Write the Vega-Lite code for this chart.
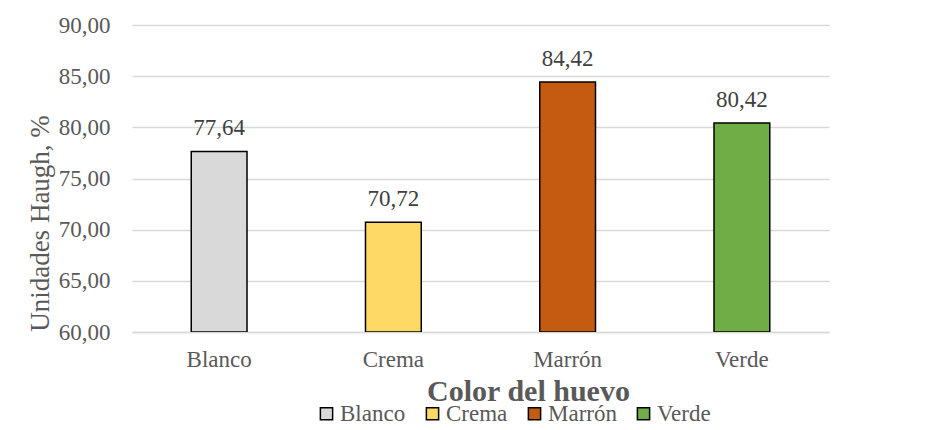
{
  "$schema": "https://vega.github.io/schema/vega-lite/v6.json",
  "width": 697,
  "height": 307,
  "autosize": "none",
  "padding": {"left": 132, "top": 25, "right": 120, "bottom": 98},
  "background": "white",
  "config": {
    "locale": {"number": {"decimal": ",", "thousands": ".", "grouping": [3], "currency": ["", " €"]}},
    "view": {"stroke": null},
    "font": "Liberation Serif"
  },
  "data": {
    "values": [
      {"color": "Blanco", "uh": 77.64},
      {"color": "Crema", "uh": 70.72},
      {"color": "Marrón", "uh": 84.42},
      {"color": "Verde", "uh": 80.42}
    ]
  },
  "encoding": {
    "x": {
      "field": "color",
      "type": "nominal",
      "sort": null,
      "scale": {"paddingInner": 0.68, "paddingOuter": 0.34},
      "axis": {
        "title": "Color del huevo",
        "titleFont": "Liberation Serif",
        "titleFontSize": 30,
        "titleFontWeight": "bold",
        "titleColor": "#595959",
        "titleX": 396,
        "titleY": 68,
        "titleBaseline": "alphabetic",
        "titleAlign": "center",
        "labelAngle": 0,
        "labelFontSize": 23,
        "labelColor": "#595959",
        "labelPadding": 16,
        "ticks": false,
        "domainColor": "#D9D9D9",
        "domainWidth": 1.3,
        "grid": false
      }
    },
    "y": {
      "field": "uh",
      "type": "quantitative",
      "scale": {"domain": [60, 90], "nice": false, "zero": false},
      "axis": {
        "title": "Unidades Haugh, %",
        "titleFont": "Liberation Serif",
        "titleFontSize": 27,
        "titleFontWeight": "normal",
        "titleColor": "#595959",
        "titleAngle": -90,
        "titleX": -92,
        "titleY": 198,
        "titleAlign": "center",
        "titleBaseline": "middle",
        "values": [60, 65, 70, 75, 80, 85, 90],
        "format": ".2f",
        "labelFontSize": 23,
        "labelColor": "#595959",
        "labelPadding": 22,
        "ticks": false,
        "domain": false,
        "grid": true,
        "gridColor": "#D9D9D9",
        "gridWidth": 1.3
      }
    }
  },
  "layer": [
    {
      "mark": {"type": "bar", "stroke": "black", "strokeWidth": 1.5, "clip": true},
      "encoding": {
        "y2": {"datum": 60},
        "color": {
          "field": "color",
          "type": "nominal",
          "sort": null,
          "scale": {
            "domain": ["Blanco", "Crema", "Marrón", "Verde"],
            "range": ["#D9D9D9", "#FFD966", "#C55A11", "#70AD47"]
          },
          "legend": {
            "title": null,
            "orient": "none",
            "direction": "horizontal",
            "legendX": 183,
            "legendY": 377,
            "symbolType": "square",
            "symbolSize": 150,
            "symbolStrokeColor": "black",
            "symbolStrokeWidth": 1.5,
            "symbolOpacity": 1,
            "labelFontSize": 23,
            "labelColor": "#595959",
            "labelOffset": 2,
            "columnPadding": 15,
            "labelLimit": 200
          }
        }
      }
    },
    {
      "mark": {"type": "text", "baseline": "alphabetic", "dy": -16, "fontSize": 23, "color": "#404040"},
      "encoding": {
        "text": {"field": "uh", "type": "quantitative", "format": ".2f"}
      }
    }
  ]
}
